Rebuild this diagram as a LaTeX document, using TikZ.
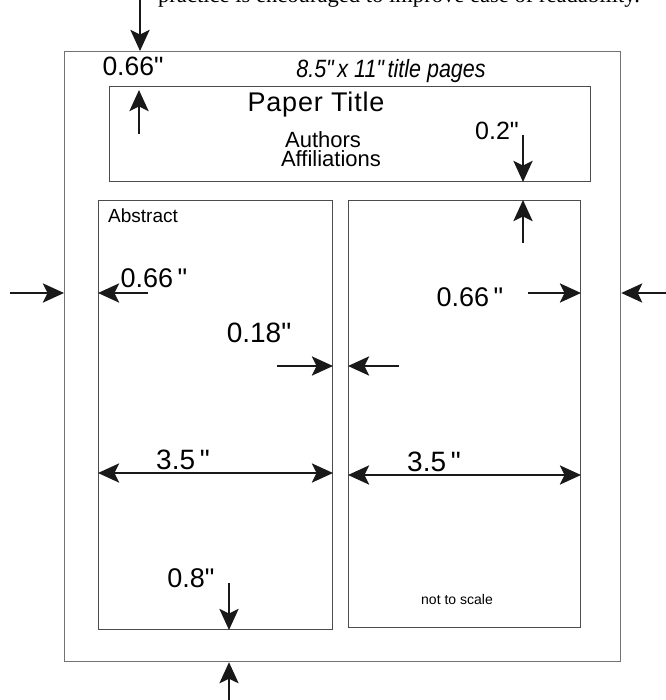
\documentclass[tikz,border=0pt]{standalone}
\usepackage{fontspec}
\newfontfamily\lsans{Liberation Sans}
\newfontfamily\serifpart{Liberation Serif}
\usetikzlibrary{arrows.meta}
\begin{document}
\lsans
\begin{tikzpicture}[x=1pt,y=-1pt,
  box/.style={draw=black!70, line width=1pt, inner sep=0pt, anchor=north west},
  pagebox/.style={draw=black!55, line width=1.2pt, inner sep=0pt, anchor=north west},
  dimtip/.tip={Stealth[length=21pt,width=19pt,inset=4.5pt]},
  dim/.style={line width=2.8pt, black!90, -dimtip},
  ddim/.style={line width=2.8pt, black!90, dimtip-dimtip},
  lbl/.style={inner sep=0pt, font=\lsans\fontsize{27}{27}\selectfont},
]
\useasboundingbox (0,0) rectangle (665,700);
\begin{scope}
\clip (0,0) rectangle (665,700);
\node[inner sep=0pt, anchor=base, font=\serifpart\fontsize{22.6}{22.6}\selectfont] (cap) at (399,3) {practice is encouraged to improve ease of readability.};
\end{scope}

% boxes
\node[pagebox, minimum width=556pt, minimum height=610pt] (page) at (64,51) {};
\node[box, minimum width=481pt, minimum height=95pt] (title) at (109,86) {};
\node[box, minimum width=234pt, minimum height=429pt] (lcol) at (98,200) {};
\node[box, minimum width=232pt, minimum height=427pt] (rcol) at (348,200) {};

% texts
\node[lbl, font=\lsans\fontsize{26.5}{26.5}\selectfont] (t066) at (133,66) {0.66"};
\node[inner sep=0pt, font=\lsans\itshape\fontsize{25}{25}\selectfont] (tsize) at (391,71) {\scalebox{0.86}[1]{8.5"\,x 11"\,title pages}};
\node[inner sep=0pt, font=\lsans\fontsize{27}{27}\selectfont\addfontfeature{LetterSpace=3}] (ptitle) at (316,105) {Paper Title};
\node[inner sep=0pt, font=\lsans\fontsize{22}{22}\selectfont] (auth) at (323,140) {Authors};
\node[inner sep=0pt, font=\lsans\fontsize{22}{22}\selectfont] (affil) at (331,159) {Affiliations};
\node[lbl, font=\lsans\fontsize{25}{25}\selectfont] (t02) at (497,131) {0.2"};
\node[inner sep=0pt, anchor=west, font=\lsans\fontsize{19}{19}\selectfont] (abs) at (108,216) {Abstract};
\node[lbl] (l066) at (154,278) {0.66\,"};
\node[lbl] (r066) at (470,297) {0.66\,"};
\node[lbl, font=\lsans\fontsize{28}{28}\selectfont] (t018) at (259,333) {0.18"};
\node[lbl, font=\lsans\fontsize{28}{28}\selectfont] (l35) at (183,460) {3.5\,"};
\node[lbl, font=\lsans\fontsize{28}{28}\selectfont] (r35) at (434,462) {3.5\,"};
\node[lbl] (t08) at (191,578) {0.8"};
\node[inner sep=0pt, font=\lsans\fontsize{14}{14}\selectfont] (nts) at (457,599) {not to scale};

% arrow tails
\coordinate (a1) at (140,-2);
\coordinate (a2) at (139,134);
\coordinate (a2t) at (139,90);
\coordinate (a3) at (523,135);
\coordinate (a4) at (523,243);
\coordinate (a5) at (10,293);
\coordinate (a6) at (148,293);
\coordinate (a7) at (528,293);
\coordinate (a8) at (667,293);
\coordinate (a9) at (277,366);
\coordinate (a10) at (399,366);
\coordinate (a11) at (0,473);
\coordinate (a12) at (0,475);
\coordinate (a13) at (229,583);
\coordinate (a14) at (229,702);

\draw[dim] (a1) -- (a1 |- page.north);
\draw[dim] (a2) -- (a2t);
\draw[dim] (a3) -- (a3 |- title.south);
\draw[dim] (a4) -- (a4 |- rcol.north);
\draw[dim] (a5) -- (a5 -| page.west);
\draw[dim] (a6) -- (a6 -| lcol.west);
\draw[dim] (a7) -- (a7 -| rcol.east);
\draw[dim] (a8) -- (a8 -| page.east);
\draw[dim] (a9) -- (a9 -| lcol.east);
\draw[dim] (a10) -- (a10 -| rcol.west);
\draw[ddim] (a11 -| lcol.west) -- (a11 -| lcol.east);
\draw[ddim] (a12 -| rcol.west) -- (a12 -| rcol.east);
\draw[dim] (a13) -- (a13 |- lcol.south);
\draw[dim] (a14) -- (a14 |- page.south);
\end{tikzpicture}
\end{document}
